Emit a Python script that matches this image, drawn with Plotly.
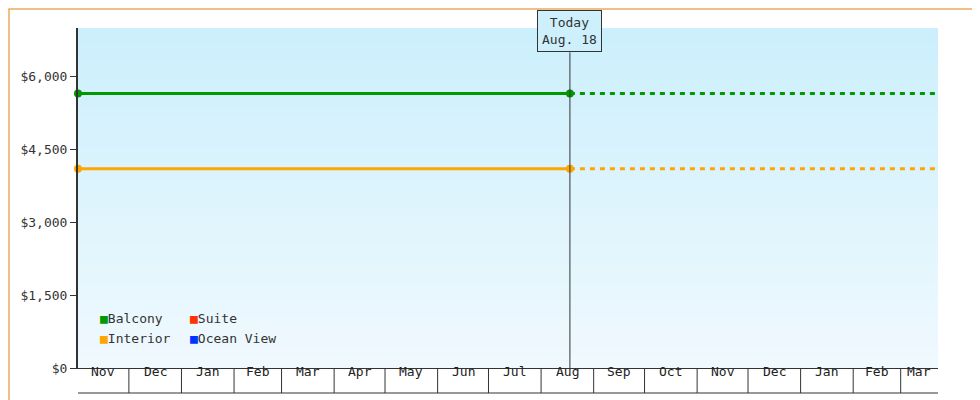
import pandas as pd
import plotly.graph_objects as go

# month boundaries shown on the axis
month_starts = ["2017-11-01", "2017-12-01", "2018-01-01", "2018-02-01", "2018-03-01",
                "2018-04-01", "2018-05-01", "2018-06-01", "2018-07-01", "2018-08-01",
                "2018-09-01", "2018-10-01", "2018-11-01", "2018-12-01", "2019-01-01",
                "2019-02-01", "2019-03-01"]
month_labels = ["Nov", "Dec", "Jan", "Feb", "Mar", "Apr", "May", "Jun", "Jul", "Aug",
                "Sep", "Oct", "Nov", "Dec", "Jan", "Feb", "Mar"]
x_start = "2017-11-01"
x_end = "2019-03-23"
today = "2018-08-18"

balcony_price = 5650
interior_price = 4100

legend_names = ["Balcony", "Suite", "Interior", "Ocean View"]
legend_colors = ["#009900", "#ff3300", "#ffa500", "#0033ff"]

FONT = "DejaVu Sans Mono"
W, H = 980, 400
L, R, T, B = 70, 50, 20, 40
pw, ph = W - L - R, H - T - B

fig = go.Figure()

# gradient background
fig.add_trace(go.Heatmap(x=[x_start, x_end], y=[0, 7000], z=[[0, 0], [1, 1]],
                         zsmooth="best", showscale=False, hoverinfo="skip",
                         colorscale=[[0, "#f0f9fe"], [1, "#cbeffc"]]))

for price, color in [(balcony_price, "#009900"), (interior_price, "#ffa500")]:
    fig.add_trace(go.Scatter(x=[x_start, today], y=[price, price], mode="lines+markers",
                             line=dict(color=color, width=3), marker=dict(size=8, color=color),
                             cliponaxis=False, showlegend=False))
    fig.add_trace(go.Scatter(x=[today, x_end], y=[price, price], mode="lines",
                             line=dict(color=color, width=3, dash="5px,5px"), showlegend=False))

shapes = []
annotations = []
# today line
shapes.append(dict(type="line", xref="x", yref="y", x0=today, x1=today, y0=0, y1=6500,
                   line=dict(color="#333", width=1)))
annotations.append(dict(x=today, y=6500, xref="x", yref="y", text="Today<br>Aug. 18",
                        showarrow=False, bordercolor="#333", borderwidth=1, borderpad=4,
                        bgcolor="#cdf0fc", font=dict(family=FONT, size=13, color="#333"),
                        yanchor="bottom"))

# month boxes under the axis
mid = pd.to_datetime(month_starts)
ends = list(mid[1:]) + [pd.Timestamp(x_end)]
for i, (s, e, lab) in enumerate(zip(mid, ends, month_labels)):
    if i > 0:
        shapes.append(dict(type="line", xref="x", yref="paper", x0=s, x1=s, y0=0, y1=-25 / ph,
                           line=dict(color="#333", width=1)))
    annotations.append(dict(x=s + (e - s) / 2, y=-12.5 / ph, xref="x", yref="paper", text=lab,
                            showarrow=False, font=dict(family=FONT, size=13, color="#222")))
shapes.append(dict(type="line", xref="paper", yref="paper", x0=0, x1=1, y0=-25 / ph, y1=-25 / ph,
                   line=dict(color="#333", width=1)))

# legend
for i, (name, color) in enumerate(zip(legend_names, legend_colors)):
    col, row = i % 2, i // 2
    x0 = (20 + col * 90) / pw
    y0 = (40 - row * 20) / ph
    annotations.append(dict(x=x0, y=y0, xref="paper", yref="paper", xanchor="left",
                            text=f"<span style='color:{color}'>■</span>{name}", showarrow=False,
                            font=dict(family=FONT, size=13, color="#333")))

# outer orange border
shapes.append(dict(type="rect", xref="paper", yref="paper", x0=-(L - 1) / pw, x1=1 + (R - 1) / pw,
                   y0=-(B - 1) / ph, y1=1 + (T - 1) / ph, line=dict(color="#f0a860", width=1.5)))

fig.update_layout(
    width=W, height=H, margin=dict(l=L, r=R, t=T, b=B, autoexpand=False),
    paper_bgcolor="white", plot_bgcolor="white",
    shapes=shapes, annotations=annotations, showlegend=False,
    font=dict(family=FONT, size=13, color="#333"),
    xaxis=dict(range=[x_start, x_end], showticklabels=False, showgrid=False, zeroline=False,
               showline=True, linecolor="#333", linewidth=1, automargin=False),
    yaxis=dict(range=[0, 7000], tickvals=[0, 1500, 3000, 4500, 6000], automargin=False,
               tickformat="$,.0f", showgrid=False, zeroline=False, showline=True,
               linecolor="#333", linewidth=2, ticks="outside", ticklen=6, tickcolor="#333"),
)

fig.write_html("out.html")
